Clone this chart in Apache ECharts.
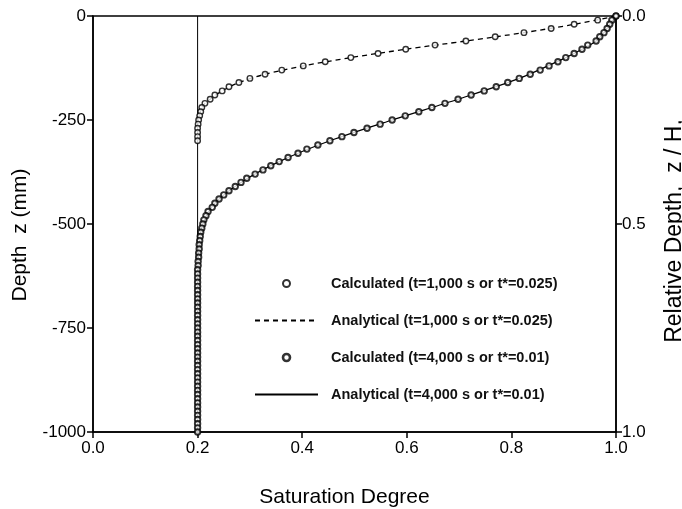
<!DOCTYPE html>
<html>
<head>
<meta charset="utf-8">
<script src="https://cdn.jsdelivr.net/npm/echarts@6/dist/echarts.min.js"></script>
<style>html,body{margin:0;padding:0;background:#fff}#c{width:682px;height:509px}</style>
</head>
<body>
<div id="c"></div>
<script>
// ---- data ----
var depthCalc1000 = [0,-10,-20,-30,-40,-50,-60,-70,-80,-90,-100,-110,-120,-130,-140,-150,-160,-170,-180,-190,-200,-210,-220,-230,-240,-250,-260,-270,-280,-290,-300];
var satCalc1000 = [1.000,0.965,0.920,0.876,0.824,0.769,0.713,0.654,0.598,0.545,0.493,0.444,0.402,0.361,0.329,0.300,0.279,0.260,0.247,0.233,0.224,0.214,0.208,0.206,0.204,0.202,0.201,0.200,0.200,0.200,0.200];

var depthCalc4000 = [0,-10,-20,-30,-40,-50,-60,-70,-80,-90,-100,-110,-120,-130,-140,-150,-160,-170,-180,-190,-200,-210,-220,-230,-240,-250,-260,-270,-280,-290,-300,-310,-320,-330,-340,-350,-360,-370,-380,-390,-400,-410,-420,-430,-440,-450,-460,-470,-480,-490,-500,-510,-520,-530,-540,-550,-560,-570,-580,-590,-600,-610,-620,-630,-640,-650,-660,-670,-680,-690,-700,-710,-720,-730,-740,-750,-760,-770,-780,-790,-800,-810,-820,-830,-840,-850,-860,-870,-880,-890,-900,-910,-920,-930,-940,-950,-960,-970,-980,-990,-1000];
var satCalc4000 = [1.000,0.992,0.988,0.983,0.977,0.969,0.962,0.946,0.935,0.920,0.904,0.889,0.872,0.855,0.836,0.815,0.793,0.771,0.748,0.723,0.698,0.673,0.648,0.623,0.597,0.572,0.549,0.524,0.499,0.476,0.453,0.430,0.409,0.392,0.373,0.356,0.340,0.325,0.310,0.294,0.283,0.272,0.260,0.250,0.241,0.233,0.228,0.220,0.216,0.212,0.210,0.208,0.206,0.205,0.204,0.203,0.203,0.202,0.202,0.201,0.201,0.200,0.200,0.200,0.200,0.200,0.200,0.200,0.200,0.200,0.200,0.200,0.200,0.200,0.200,0.200,0.200,0.200,0.200,0.200,0.200,0.200,0.200,0.200,0.200,0.200,0.200,0.200,0.200,0.200,0.200,0.200,0.200,0.200,0.200,0.200,0.200,0.200,0.200,0.200,0.200];

var depthAna1000 = [0,-20,-40,-60,-80,-100,-120,-140,-160,-180,-200,-210,-220,-230,-240,-250,-270,-300];
var satAna1000 = [1.000,0.920,0.824,0.713,0.598,0.493,0.402,0.329,0.279,0.247,0.224,0.214,0.208,0.205,0.203,0.201,0.200,0.200];

var depthAna4000 = [0,-20,-40,-60,-80,-100,-150,-200,-250,-300,-350,-400,-450,-500,-550,-600,-700,-1000];
var satAna4000 = [1.000,0.988,0.977,0.962,0.935,0.904,0.815,0.698,0.572,0.453,0.356,0.283,0.233,0.210,0.203,0.201,0.200,0.200];

var depthInitial = [0,-1000];
var satInitial = [0.2,0.2];

var depthTicks = [0,-250,-500,-750,-1000];
var relTicks = ['0.0','0.5','1.0'];

var names = [
  'Calculated (t=1,000 s or t*=0.025)',
  'Analytical (t=1,000 s or t*=0.025)',
  'Calculated (t=4,000 s or t*=0.01)',
  'Analytical (t=4,000 s or t*=0.01)'
];

function pairs(xs, ys){ return xs.map(function(x,i){ return [x, ys[i]]; }); }

var FONT = 'Liberation Sans, Arial, Helvetica, sans-serif';
var hidden = {color:'rgba(0,0,0,0)', borderColor:'rgba(0,0,0,0)', borderWidth:0};
var chart = echarts.init(document.getElementById('c'), null, {renderer:'canvas'});
chart.setOption({
  animation:false,
  backgroundColor:'#fff',
  textStyle:{fontFamily:FONT, color:'#000'},
  grid:{left:93, right:66, top:16, bottom:77, show:true, borderColor:'#000', borderWidth:1.5, containLabel:false, outerBoundsMode:'none'},
  legend:{
    orient:'vertical', left:249, top:271,
    itemWidth:63, itemHeight:7, itemGap:22,
    textStyle:{fontFamily:FONT, fontSize:14.5, fontWeight:'bold', color:'#111', padding:[0,0,0,8]},
    data:[
      {name:names[0]},
      {name:names[1], itemStyle:hidden},
      {name:names[2], itemStyle:{borderWidth:2.6}},
      {name:names[3], itemStyle:hidden}
    ]
  },
  xAxis:{
    type:'value', min:0, max:1, interval:0.2,
    name:'Saturation Degree', nameLocation:'middle', nameGap:55,
    nameTextStyle:{fontSize:21, fontFamily:FONT, color:'#000', padding:[0,20,0,0]},
    axisLine:{show:true, onZero:false, lineStyle:{color:'#000', width:1.5}},
    axisTick:{show:true, inside:false, length:6, lineStyle:{color:'#000', width:1.5}},
    axisLabel:{fontSize:17, color:'#000', margin:8, formatter:function(v){return v.toFixed(1);}},
    splitLine:{show:false}
  },
  yAxis:[{
    type:'value', min:-1000, max:0, interval:250, position:'left',
    name:'Depth  z (mm)', nameLocation:'middle', nameGap:62, nameRotate:90,
    nameTextStyle:{fontSize:21, fontFamily:FONT, color:'#000', padding:[0,22,0,0]},
    axisLine:{show:true, onZero:false, lineStyle:{color:'#000', width:1.5}},
    axisTick:{show:true, length:6, lineStyle:{color:'#000', width:1.5}},
    axisLabel:{fontSize:17, color:'#000', margin:7, formatter:function(v){return depthTicks.indexOf(v)>=0 ? String(v) : '';}},
    splitLine:{show:false}
  },{
    type:'value', min:0, max:1, interval:0.5, inverse:true, position:'right',
    name:'Relative Depth,  z / H,', nameLocation:'middle', nameGap:47, nameRotate:90,
    nameTextStyle:{fontSize:23, fontFamily:FONT, color:'#000', padding:[0,14,0,0]},
    axisLine:{show:true, onZero:false, lineStyle:{color:'#000', width:1.5}},
    axisTick:{show:true, length:6, lineStyle:{color:'#000', width:1.5}},
    axisLabel:{fontSize:17, color:'#000', margin:6, formatter:function(v){var i=Math.round(v*2); return relTicks[i];}},
    splitLine:{show:false}
  }],
  series:[
    {type:'line', name:'initial', data:pairs(satInitial, depthInitial), symbol:'none', lineStyle:{color:'#000', width:1}, silent:true, z:1},
    {type:'line', name:names[1], data:pairs(satAna1000, depthAna1000), symbol:'none', smooth:0.3, lineStyle:{color:'#000', width:1.3, type:[5,4]}, z:2},
    {type:'line', name:names[3], data:pairs(satAna4000, depthAna4000), symbol:'none', smooth:0.3, lineStyle:{color:'#000', width:1.2}, z:2},
    {type:'scatter', name:names[0], data:pairs(satCalc1000, depthCalc1000), symbol:'circle', symbolSize:5.5, itemStyle:{color:'#fff', borderColor:'#000', borderWidth:1.4}, z:3},
    {type:'scatter', name:names[2], data:pairs(satCalc4000, depthCalc4000), symbol:'circle', symbolSize:5.5, itemStyle:{color:'#fff', borderColor:'#000', borderWidth:1.9}, z:3}
  ]
});
</script>
</body>
</html>
